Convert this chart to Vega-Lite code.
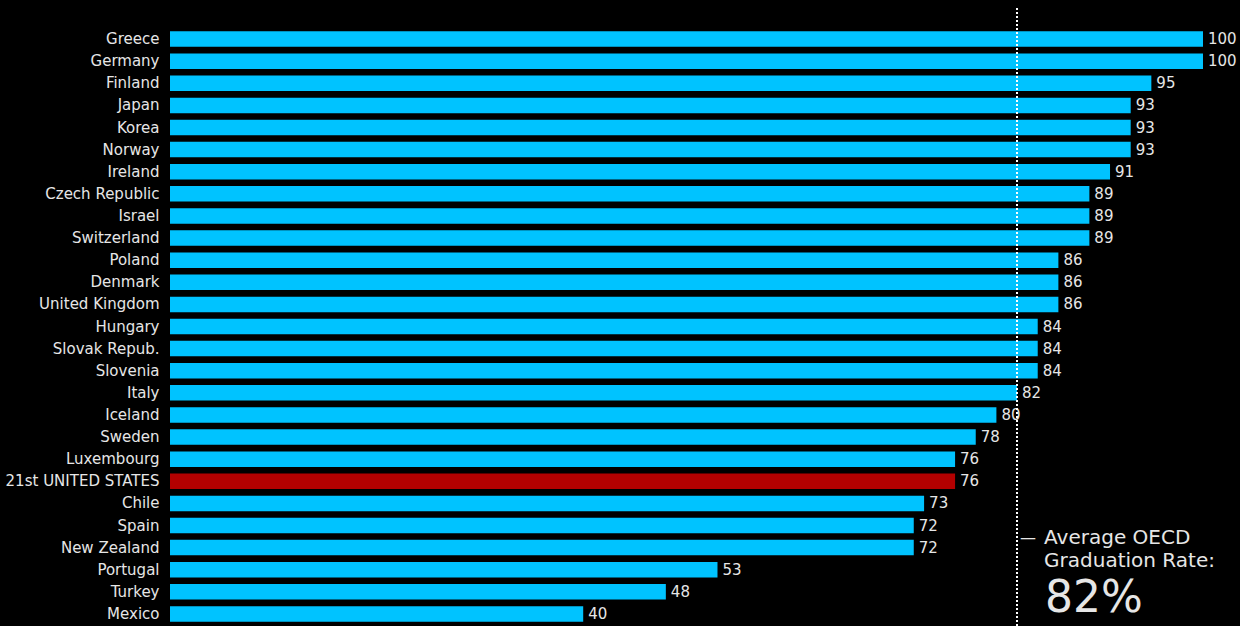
{
  "$schema": "https://vega.github.io/schema/vega-lite/v6.json",
  "autosize": {"type": "none"},
  "width": 1033,
  "height": 618,
  "padding": {"left": 170, "top": 8, "right": 37, "bottom": 0},
  "background": "#000000",
  "config": {
    "view": {"stroke": null},
    "font": "DejaVu Sans",
    "text": {"font": "DejaVu Sans", "color": "#e6e6e6"}
  },
  "data": {
    "values": [
      {"country": "Greece", "rate": 100, "group": "OECD"},
      {"country": "Germany", "rate": 100, "group": "OECD"},
      {"country": "Finland", "rate": 95, "group": "OECD"},
      {"country": "Japan", "rate": 93, "group": "OECD"},
      {"country": "Korea", "rate": 93, "group": "OECD"},
      {"country": "Norway", "rate": 93, "group": "OECD"},
      {"country": "Ireland", "rate": 91, "group": "OECD"},
      {"country": "Czech Republic", "rate": 89, "group": "OECD"},
      {"country": "Israel", "rate": 89, "group": "OECD"},
      {"country": "Switzerland", "rate": 89, "group": "OECD"},
      {"country": "Poland", "rate": 86, "group": "OECD"},
      {"country": "Denmark", "rate": 86, "group": "OECD"},
      {"country": "United Kingdom", "rate": 86, "group": "OECD"},
      {"country": "Hungary", "rate": 84, "group": "OECD"},
      {"country": "Slovak Repub.", "rate": 84, "group": "OECD"},
      {"country": "Slovenia", "rate": 84, "group": "OECD"},
      {"country": "Italy", "rate": 82, "group": "OECD"},
      {"country": "Iceland", "rate": 80, "group": "OECD"},
      {"country": "Sweden", "rate": 78, "group": "OECD"},
      {"country": "Luxembourg", "rate": 76, "group": "OECD"},
      {"country": "21st UNITED STATES", "rate": 76, "group": "United States"},
      {"country": "Chile", "rate": 73, "group": "OECD"},
      {"country": "Spain", "rate": 72, "group": "OECD"},
      {"country": "New Zealand", "rate": 72, "group": "OECD"},
      {"country": "Portugal", "rate": 53, "group": "OECD"},
      {"country": "Turkey", "rate": 48, "group": "OECD"},
      {"country": "Mexico", "rate": 40, "group": "OECD"}
    ]
  },
  "layer": [
    {
      "mark": {"type": "bar"},
      "encoding": {
        "y": {
          "field": "country",
          "type": "nominal",
          "sort": null,
          "scale": {"range": [20, 617], "paddingInner": 0.3, "paddingOuter": 0.15},
          "axis": {
            "title": null,
            "domain": false,
            "ticks": false,
            "tickSize": 0,
            "labelPadding": 11,
            "labelFont": "DejaVu Sans",
            "labelFontSize": 15,
            "labelColor": "#e6e6e6",
            "labelLimit": 300
          }
        },
        "x": {
          "field": "rate",
          "type": "quantitative",
          "scale": {"domain": [0, 100], "nice": false, "zero": true},
          "axis": null
        },
        "color": {
          "field": "group",
          "type": "nominal",
          "scale": {"domain": ["OECD", "United States"], "range": ["#00C3FF", "#B30000"]},
          "legend": null
        }
      }
    },
    {
      "mark": {"type": "text", "align": "left", "baseline": "middle", "dx": 5, "fontSize": 15},
      "encoding": {
        "y": {"field": "country", "type": "nominal", "sort": null},
        "x": {"field": "rate", "type": "quantitative"},
        "text": {"field": "rate", "type": "quantitative"}
      }
    },
    {
      "mark": {"type": "rule", "color": "#ffffff", "strokeWidth": 1.5, "strokeDash": [2, 2]},
      "encoding": {
        "x": {"datum": 82}
      }
    },
    {
      "transform": [{"filter": "datum.country === 'New Zealand'"}],
      "mark": {"type": "text", "align": "left", "baseline": "alphabetic", "dx": 3, "dy": -5, "fontSize": 16, "text": "—"},
      "encoding": {
        "x": {"datum": 82},
        "y": {"field": "country", "type": "nominal", "sort": null}
      }
    },
    {
      "transform": [{"filter": "datum.country === 'New Zealand'"}],
      "mark": {
        "type": "text",
        "align": "left",
        "baseline": "alphabetic",
        "dx": 27,
        "dy": -4,
        "fontSize": 20,
        "lineHeight": 23,
        "text": ["Average OECD", "Graduation Rate:"]
      },
      "encoding": {
        "x": {"datum": 82},
        "y": {"field": "country", "type": "nominal", "sort": null}
      }
    },
    {
      "transform": [{"filter": "datum.country === 'Mexico'"}],
      "mark": {
        "type": "text",
        "align": "left",
        "baseline": "alphabetic",
        "dx": 28,
        "dy": -2,
        "fontSize": 44,
        "text": "82%"
      },
      "encoding": {
        "x": {"datum": 82},
        "y": {"field": "country", "type": "nominal", "sort": null}
      }
    }
  ]
}
